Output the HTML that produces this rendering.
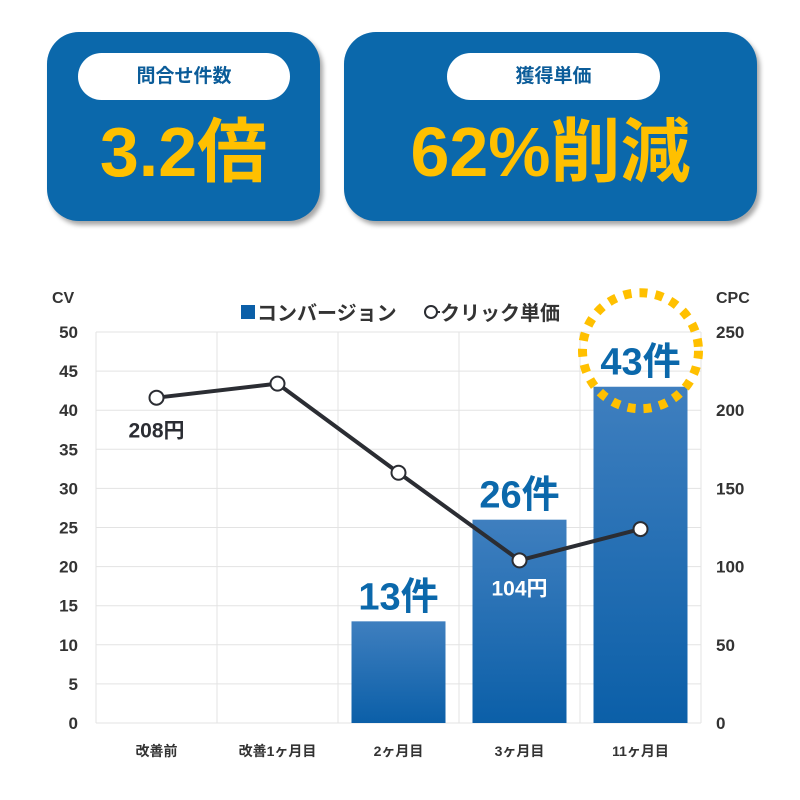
<!DOCTYPE html>
<html><head><meta charset="utf-8"><style>
body{margin:0;background:#fff;width:800px;height:800px;overflow:hidden;font-family:"Liberation Sans","Noto Sans CJK JP",sans-serif}
.box{position:absolute;background:#0b68ab;border-radius:32px;box-shadow:3px 4px 5px rgba(0,0,0,.35)}
.pill{position:absolute;background:#fff;border-radius:24px;color:#0b5c99;font-weight:bold;font-size:19px;text-align:center;line-height:47px}
.big{position:absolute;color:#ffc000;font-weight:bold;text-align:center;font-size:70px;line-height:70px}
</style></head><body>
<div class="box" style="left:47px;top:32px;width:273px;height:189px">
 <div class="pill" style="left:31px;top:21px;width:212px;height:47px">問合せ件数</div>
 <div class="big" style="left:0;top:85px;width:273px">3.2倍</div>
</div>
<div class="box" style="left:344px;top:32px;width:413px;height:189px">
 <div class="pill" style="left:103px;top:21px;width:213px;height:47px">獲得単価</div>
 <div class="big" style="left:0;top:85px;width:413px">62%削減</div>
</div>
<svg id="chart" width="800" height="800" style="position:absolute;left:0;top:0">
<defs><linearGradient id="bg" x1="0" y1="0" x2="0" y2="1"><stop offset="0" stop-color="#3f7fbf"/><stop offset="1" stop-color="#0b5fa8"/></linearGradient></defs>
</svg>
<script>
const categories=["改善前","改善1ヶ月目","2ヶ月目","3ヶ月目","11ヶ月目"];
const cvValues=[0,0,13,26,43];
const cpcValues=[208,217,160,104,124];
const leftTicks=[0,5,10,15,20,25,30,35,40,45,50];
const rightTicks=[0,50,100,150,200,250];
const svg=document.getElementById('chart');
const NS="http://www.w3.org/2000/svg";
const X0=96,X1=701,Y0=723,Y1=332;
const bw=(X1-X0)/categories.length;
const xc=i=>X0+bw*(i+0.5);
const yL=v=>Y0-(v/50)*(Y0-Y1);
const yR=v=>Y0-(v/250)*(Y0-Y1);
function mk(t,a,txt){const e=document.createElementNS(NS,t);for(const k in a)e.setAttribute(k,a[k]);if(txt!=null)e.textContent=txt;svg.appendChild(e);return e;}
const F='"Liberation Sans","Noto Sans CJK JP",sans-serif';
leftTicks.forEach(v=>{
 const g=mk('line',{x1:X0,x2:X1,y1:yL(v),y2:yL(v),stroke:'#e3e3e3','stroke-width':1});
 
 const t=mk('text',{x:78,y:yL(v)+6,'text-anchor':'end','font-size':17,'font-weight':'bold',fill:'#333','font-family':F},v);
 
});
for(let i=0;i<=categories.length;i++){
 const g=mk('line',{x1:X0+bw*i,x2:X0+bw*i,y1:Y1,y2:Y0,stroke:'#e3e3e3','stroke-width':1});
 
}
rightTicks.forEach(v=>{
 const t=mk('text',{x:716,y:yR(v)+6,'font-size':17,'font-weight':'bold',fill:'#333','font-family':F},v);
 
});
categories.forEach((c,i)=>{
 const t=mk('text',{x:xc(i),y:756,'text-anchor':'middle','font-size':14,'font-weight':'bold',fill:'#333','font-family':F},c);
 
});
let t=mk('text',{x:52,y:303,'font-size':16,'font-weight':'bold',fill:'#333','font-family':F},'CV');

t=mk('text',{x:716,y:303,'font-size':16,'font-weight':'bold',fill:'#333','font-family':F},'CPC');

cvValues.forEach((v,i)=>{
 if(v<=0)return;
 const w=94;
 const r=mk('rect',{x:xc(i)-w/2,y:yL(v),width:w,height:Y0-yL(v),fill:'url(#bg)'});
 
});
cvValues.forEach((v,i)=>{
 if(v<=0)return;
 const l=mk('text',{x:xc(i),y:yL(v)-12,'text-anchor':'middle','font-size':38,'font-weight':'bold',fill:'#0b68ab','font-family':F},v+'件');
 
});
const last=cvValues.length-1;
const ring=mk('circle',{cx:xc(last),cy:yL(cvValues[last])-36,r:58,fill:'none',stroke:'#ffc000','stroke-width':9,'stroke-dasharray':'8 8'});

const pts=cpcValues.map((v,i)=>xc(i)+','+yR(v)).join(' ');
const pl=mk('polyline',{points:pts,fill:'none',stroke:'#2b2d33','stroke-width':4,'stroke-linejoin':'round'});

cpcValues.forEach((v,i)=>{
 const c=mk('circle',{cx:xc(i),cy:yR(v),r:7,fill:'#fff',stroke:'#2b2d33','stroke-width':2});
 
});
let a=mk('text',{x:xc(0),y:yR(cpcValues[0])+40,'text-anchor':'middle','font-size':21,'font-weight':'bold',fill:'#2b2d33','font-family':F},cpcValues[0]+'円');

a=mk('text',{x:xc(3),y:yR(cpcValues[3])+35,'text-anchor':'middle','font-size':21,'font-weight':'bold',fill:'#fff','font-family':F},cpcValues[3]+'円');

const lg=mk('rect',{x:241,y:305,width:14,height:14,fill:'#0b5fa8'});

a=mk('text',{x:257,y:320,'font-size':20,'font-weight':'bold',fill:'#333','font-family':F},'コンバージョン');

const ll=mk('line',{x1:424,x2:440,y1:312,y2:312,stroke:'#2b2d33','stroke-width':2});

const lc=mk('circle',{cx:431,cy:312,r:6,fill:'#fff',stroke:'#2b2d33','stroke-width':2});

a=mk('text',{x:440,y:320,'font-size':20,'font-weight':'bold',fill:'#333','font-family':F},'クリック単価');

</script>
</body></html>
